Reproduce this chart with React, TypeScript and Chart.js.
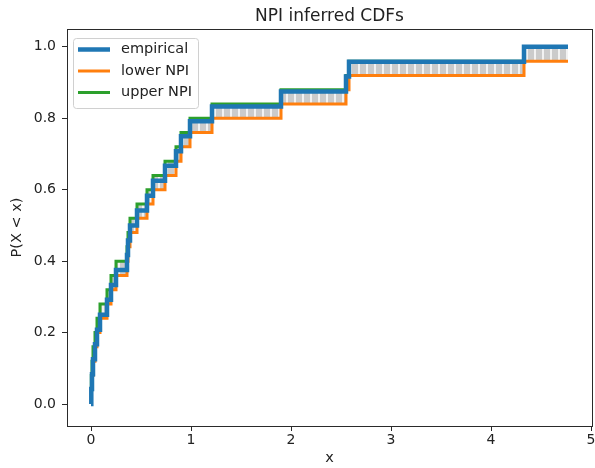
import React, { useEffect, useRef } from "react";
import { Chart, registerables } from "chart.js";

Chart.register(...registerables);

// x positions of the step points (sorted samples, with a start at 0 and an end point)
const stepX = [0, 0.003, 0.01, 0.02, 0.04, 0.06, 0.09, 0.16, 0.2, 0.25, 0.36, 0.37, 0.39, 0.46, 0.56, 0.62, 0.74, 0.85, 0.9, 0.99, 1.21, 1.9, 2.55, 2.58, 4.33, 4.77];
const empiricalY = [0, 0.042, 0.083, 0.125, 0.167, 0.208, 0.25, 0.292, 0.333, 0.375, 0.417, 0.458, 0.5, 0.542, 0.583, 0.625, 0.667, 0.708, 0.75, 0.792, 0.833, 0.875, 0.917, 0.958, 1.0, 1.0];
const lowerY = [0, 0.04, 0.08, 0.12, 0.16, 0.2, 0.24, 0.28, 0.32, 0.36, 0.4, 0.44, 0.48, 0.52, 0.56, 0.6, 0.64, 0.68, 0.72, 0.76, 0.8, 0.84, 0.88, 0.92, 0.96, 0.96];
const upperY = [0.04, 0.08, 0.12, 0.16, 0.2, 0.24, 0.28, 0.32, 0.36, 0.4, 0.44, 0.48, 0.52, 0.56, 0.6, 0.64, 0.68, 0.72, 0.76, 0.8, 0.84, 0.88, 0.92, 0.96, 1.0, 1.0];
const seriesLabels = ["empirical", "lower NPI", "upper NPI"];
const xTicks = [0, 1, 2, 3, 4, 5];
const yTicks = [0, 0.2, 0.4, 0.6, 0.8, 1.0];
const titleText = "NPI inferred CDFs";
const xLabel = "x";
const yLabel = "P(X < x)";

const BLUE = "#1f77b4";
const ORANGE = "#ff7f0e";
const GREEN = "#2ca02c";
const TEXT = "#222222";
const FONT = "'DejaVu Sans', sans-serif";

function makePattern(): CanvasPattern | string {
  const c = document.createElement("canvas");
  c.width = 8;
  c.height = 8;
  const g = c.getContext("2d");
  if (!g) return "#d0d0d0";
  g.fillStyle = "#cbcbcb";
  g.fillRect(0, 0, 8, 8);
  g.fillStyle = "#f2f2f2";
  g.fillRect(6, 0, 2, 8);
  return g.createPattern(c, "repeat") || "#d0d0d0";
}

const decorPlugin = {
  id: "decor",
  afterDraw(chart: any) {
    const ctx = chart.ctx as CanvasRenderingContext2D;
    const a = chart.chartArea;
    ctx.save();
    // spines
    ctx.strokeStyle = "#2a2a2a";
    ctx.lineWidth = 1;
    ctx.strokeRect(Math.round(a.left) + 0.5, Math.round(a.top) + 0.5, Math.round(a.right - a.left), Math.round(a.bottom - a.top));
    // title
    ctx.fillStyle = TEXT;
    ctx.font = `17px ${FONT}`;
    ctx.textAlign = "center";
    ctx.textBaseline = "alphabetic";
    ctx.fillText(titleText, (a.left + a.right) / 2, 21);
    // legend
    const lx = 73.5, ly = 38.5, lw = 125, lh = 70, r = 3;
    ctx.beginPath();
    ctx.moveTo(lx + r, ly);
    ctx.lineTo(lx + lw - r, ly);
    ctx.arcTo(lx + lw, ly, lx + lw, ly + r, r);
    ctx.lineTo(lx + lw, ly + lh - r);
    ctx.arcTo(lx + lw, ly + lh, lx + lw - r, ly + lh, r);
    ctx.lineTo(lx + r, ly + lh);
    ctx.arcTo(lx, ly + lh, lx, ly + lh - r, r);
    ctx.lineTo(lx, ly + r);
    ctx.arcTo(lx, ly, lx + r, ly, r);
    ctx.closePath();
    ctx.fillStyle = "rgba(255,255,255,0.85)";
    ctx.fill();
    ctx.strokeStyle = "#d0d0d0";
    ctx.stroke();
    const colors = [BLUE, ORANGE, GREEN];
    const widths = [4.5, 3, 3];
    const rows = [49.5, 71, 92.5];
    ctx.font = `14.5px ${FONT}`;
    ctx.textAlign = "left";
    ctx.textBaseline = "middle";
    rows.forEach((yy, i) => {
      ctx.beginPath();
      ctx.strokeStyle = colors[i];
      ctx.lineWidth = widths[i];
      ctx.moveTo(78, yy);
      ctx.lineTo(110, yy);
      ctx.stroke();
      ctx.fillStyle = TEXT;
      ctx.fillText(seriesLabels[i], 121, yy);
    });
    ctx.restore();
  },
};

export default function App() {
  const ref = useRef<HTMLCanvasElement | null>(null);
  useEffect(() => {
    if (!ref.current) return;
    const pts = (ys: number[]) => stepX.map((x, i) => ({ x, y: ys[i] }));
    const tickFont = { family: FONT, size: 14 };
    const labelFont = { family: FONT, size: 14.5 };
    const chart = new Chart(ref.current, {
      type: "line",
      data: {
        datasets: [
          { label: seriesLabels[0], data: pts(empiricalY), borderColor: BLUE, borderWidth: 4.5, stepped: true, pointRadius: 0, fill: false },
          { label: seriesLabels[1], data: pts(lowerY), borderColor: ORANGE, borderWidth: 3, stepped: true, pointRadius: 0, fill: false },
          { label: seriesLabels[2], data: pts(upperY), borderColor: GREEN, borderWidth: 3, stepped: true, pointRadius: 0, fill: { target: 1 }, backgroundColor: makePattern() as any },
        ],
      },
      options: {
        animation: false,
        responsive: false,
        devicePixelRatio: 1,
        layout: { padding: { top: 29, right: 3, left: 0, bottom: 0 } },
        plugins: {
          legend: { display: false },
          title: { display: false },
          tooltip: { enabled: false },
          filler: { drawTime: "beforeDatasetsDraw" } as any,
        },
        scales: {
          x: {
            type: "linear",
            min: -0.24,
            max: 5.01,
            afterBuildTicks: (s: any) => { s.ticks = xTicks.map((v) => ({ value: v })); },
            afterFit: (s: any) => { s.height = 42; s.paddingLeft = 0; s.paddingRight = 0; },
            ticks: { font: tickFont, color: TEXT, padding: 1, maxRotation: 0, autoSkip: false, callback: (v: any) => String(v) },
            grid: { drawOnChartArea: false, drawTicks: true, tickLength: 5, color: "#2a2a2a" },
            border: { display: false },
            title: { display: true, text: xLabel, font: labelFont, color: TEXT, padding: { top: 0, bottom: 1 } },
          },
          y: {
            type: "linear",
            min: -0.0616,
            max: 1.05,
            afterBuildTicks: (s: any) => { s.ticks = yTicks.map((v) => ({ value: v })); },
            afterFit: (s: any) => { s.width = 67; s.paddingTop = 0; s.paddingBottom = 0; },
            ticks: { font: tickFont, color: TEXT, padding: 6, autoSkip: false, callback: (v: any) => Number(v).toFixed(1) },
            grid: { drawOnChartArea: false, drawTicks: true, tickLength: 5, color: "#2a2a2a" },
            border: { display: false },
            title: { display: true, text: yLabel, font: labelFont, color: TEXT, padding: { top: 9, bottom: 0 } },
          },
        },
      },
      plugins: [decorPlugin],
    });
    return () => chart.destroy();
  }, []);
  return (
    <div style={{ position: "absolute", left: 0, top: 0, width: 595, height: 468, background: "#fff" }}>
      <canvas ref={ref} width={595} height={468} style={{ display: "block" }} />
    </div>
  );
}
